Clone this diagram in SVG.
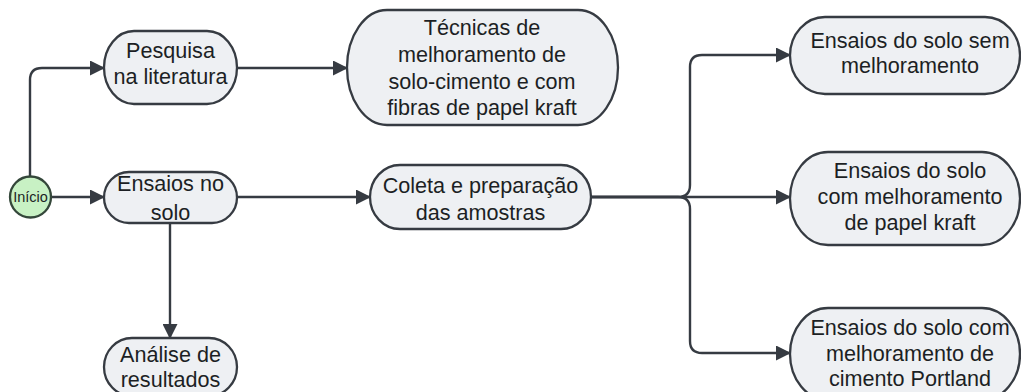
<svg xmlns="http://www.w3.org/2000/svg" width="1021" height="392" viewBox="0 0 1021 392">
<style>
.node{fill:#eef0f3;stroke:#363b42;stroke-width:2.3}
.start{fill:#c8f1c4;stroke:#34473a;stroke-width:2.3}
.t{font-family:"Liberation Sans",Arial,sans-serif;font-size:21.6px;fill:#1c1f24;text-anchor:middle}
.ts{font-family:"Liberation Sans",Arial,sans-serif;font-size:14.5px;fill:#1c1f24;text-anchor:middle}
.c{fill:none;stroke:#363b42;stroke-width:2.4;marker-end:url(#arr)}
</style>
<defs>
<marker id="arr" markerUnits="userSpaceOnUse" markerWidth="15" markerHeight="15" refX="14" refY="7.5" orient="auto">
<path d="M0,0 L15,7.5 L0,15 z" fill="#363b42"/>
</marker>
</defs>
<rect width="1021" height="392" fill="#ffffff"/>
<g id="connectors">
<path class="c" d="M30,177 V80 Q30,68 42,68 H104"/>
<path class="c" d="M52,197 H104"/>
<path class="c" d="M237,68 H347"/>
<path class="c" d="M237,197 H370"/>
<path class="c" d="M170,223 V338"/>
<path class="c" d="M591,197 H678 Q690,197 690,185 V67 Q690,55 702,55 H790"/>
<path class="c" d="M591,197 H790"/>
<path class="c" d="M591,197 H678 Q690,197 690,209 V341 Q690,353 702,353 H790"/>
</g>
<g id="inicio">
<circle class="start" cx="30.5" cy="197" r="20.5"/>
<text class="ts" x="30.5" y="202">Início</text>
</g>
<g id="pesquisa">
<rect class="node" x="104" y="31" width="133" height="73" rx="30" ry="36.5"/>
<text class="t" x="170.5" y="57.5">Pesquisa</text>
<text class="t" x="170.5" y="83.5">na literatura</text>
</g>
<g id="tecnicas">
<rect class="node" x="347" y="10" width="271" height="115" rx="40" ry="57.5"/>
<text class="t" x="482" y="34.5">Técnicas de</text>
<text class="t" x="482" y="62">melhoramento de</text>
<text class="t" x="482" y="89">solo-cimento e com</text>
<text class="t" x="482" y="115">fibras de papel kraft</text>
</g>
<g id="ensaios-solo">
<rect class="node" x="104" y="172" width="133" height="51" rx="25" ry="25.5"/>
<text class="t" x="170.5" y="190.5">Ensaios no</text>
<text class="t" x="170.5" y="219.5">solo</text>
</g>
<g id="coleta">
<rect class="node" x="370" y="165" width="221" height="64" rx="30" ry="32"/>
<text class="t" x="480.5" y="193">Coleta e preparação</text>
<text class="t" x="480.5" y="219.5">das amostras</text>
</g>
<g id="analise">
<rect class="node" x="104" y="338" width="133" height="58" rx="28" ry="29"/>
<text class="t" x="170.5" y="361.5">Análise de</text>
<text class="t" x="170.5" y="386.5">resultados</text>
</g>
<g id="sem">
<rect class="node" x="790" y="17" width="230" height="77" rx="35" ry="38.5"/>
<text class="t" x="910" y="47.5">Ensaios do solo sem</text>
<text class="t" x="910" y="72.5">melhoramento</text>
</g>
<g id="kraft">
<rect class="node" x="790" y="152" width="230" height="93" rx="38" ry="46.5"/>
<text class="t" x="910" y="177.5">Ensaios do solo</text>
<text class="t" x="910" y="204">com melhoramento</text>
<text class="t" x="910" y="229.5">de papel kraft</text>
</g>
<g id="portland">
<rect class="node" x="790" y="308" width="230" height="92" rx="38" ry="46"/>
<text class="t" x="910" y="334.5">Ensaios do solo com</text>
<text class="t" x="910" y="360.5">melhoramento de</text>
<text class="t" x="910" y="385.5">cimento Portland</text>
</g>
</svg>
